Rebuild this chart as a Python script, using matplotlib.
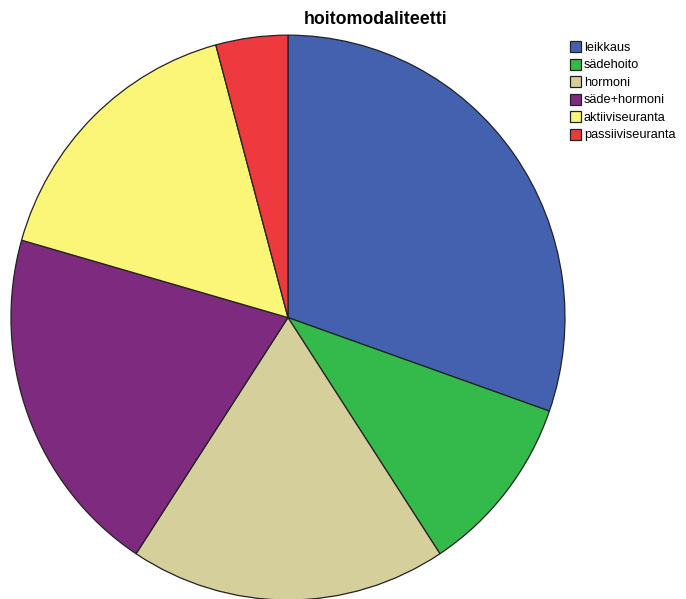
import matplotlib
matplotlib.use("Agg")
import matplotlib.pyplot as plt

# ---- Data ----
labels = ["leikkaus", "sädehoito", "hormoni", "säde+hormoni", "aktiiviseuranta", "passiiviseuranta"]
shares = [30.4, 10.4, 18.5, 20.2, 16.4, 4.2]
colors = ["#4361AF", "#34BA4B", "#D5CF9C", "#7E2A7F", "#FBF578", "#EE3A3E"]

plt.rcParams["font.family"] = ["Liberation Sans", "DejaVu Sans"]

fig = plt.figure(figsize=(6.86, 5.99), dpi=100)
ax = fig.add_axes([0.016, -0.0017, 0.8076, 0.943])
wedges, _ = ax.pie(shares, colors=colors, startangle=90, counterclock=False,
                   wedgeprops=dict(edgecolor="#222222", linewidth=0.9))
ax.set_aspect("auto")
ax.set_xlim(-1, 1)
ax.set_ylim(-1, 1)

fig.text(0.547, 0.968, "hoitomodaliteetti", ha="center", va="center",
         fontsize=12.8, fontweight="bold")

fig.legend(wedges, labels, loc="upper left", bbox_to_anchor=(0.823, 0.94),
           frameon=False, fontsize=9.2, handlelength=0.85, handleheight=0.95,
           handletextpad=0.25, labelspacing=0.36, borderaxespad=0)

fig.savefig("out.png", dpi=100)
